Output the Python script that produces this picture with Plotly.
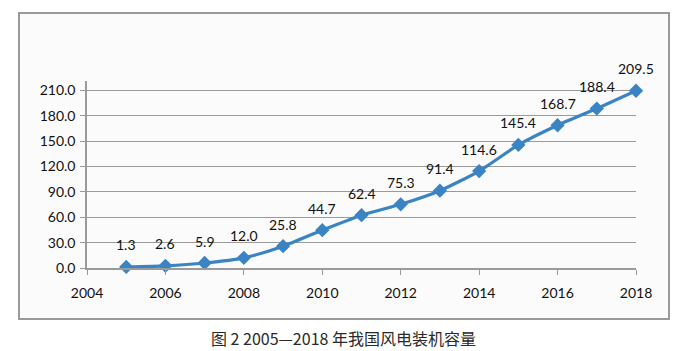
import plotly.graph_objects as go

years = [2005, 2006, 2007, 2008, 2009, 2010, 2011, 2012, 2013, 2014, 2015, 2016, 2017, 2018]
capacity = [1.3, 2.6, 5.9, 12.0, 25.8, 44.7, 62.4, 75.3, 91.4, 114.6, 145.4, 168.7, 188.4, 209.5]
labels = [f"{v:.1f}" for v in capacity]
y_ticks = [0, 30, 60, 90, 120, 150, 180, 210]
x_ticks = [2004, 2006, 2008, 2010, 2012, 2014, 2016, 2018]
caption = "图 2 2005—2018 年我国风电装机容量"

W, H = 688, 351
L, R, T, B = 87, 52, 81, 83
FONT = "Lato, Open Sans, Liberation Sans, sans-serif"

fig = go.Figure()
fig.add_trace(go.Scatter(
    x=years, y=capacity, mode="lines+markers",
    line=dict(color="#3a84c4", width=3.2, shape="spline", smoothing=0.6),
    marker=dict(symbol="diamond", size=11, color="#3a84c4"),
    cliponaxis=False, showlegend=False,
))

annotations = [dict(x=x, y=y, text=t, xref="x", yref="y", showarrow=False,
                    yshift=22, xanchor="center", yanchor="middle",
                    font=dict(family=FONT, size=14, color="#111111"))
               for x, y, t in zip(years, capacity, labels)]

annotations.append(dict(text=caption, xref="paper", yref="paper",
                        x=(343 - L) / (W - L - R), y=(H - B - 338) / (H - T - B),
                        showarrow=False, xanchor="center", yanchor="middle",
                        font=dict(family="Noto Sans CJK SC", size=16, color="#2a2a2a")))

# outer box
fig.add_shape(type="rect", xref="paper", yref="paper",
              x0=(19 - L) / (W - L - R), x1=(669 - L) / (W - L - R),
              y0=(H - B - 319) / (H - T - B), y1=(H - B - 13) / (H - T - B),
              line=dict(color="#9a9a9a", width=2), fillcolor="#fbfbfb", layer="below")

fig.update_layout(
    width=W, height=H,
    margin=dict(l=L, r=R, t=T, b=B),
    paper_bgcolor="white", plot_bgcolor="rgba(0,0,0,0)",
    font=dict(family=FONT, size=14, color="#111111"),
    xaxis=dict(range=[2004, 2018], tickvals=x_ticks, ticktext=[str(t) for t in x_ticks],
               showgrid=False, showline=True, linecolor="#9a9a9a", linewidth=2,
               ticks="outside", ticklen=5, tickcolor="#9a9a9a", tickwidth=1,
               zeroline=False, tickfont=dict(size=14), ticklabelstandoff=6),
    yaxis=dict(range=[0, 221], tickvals=y_ticks, ticktext=[f"{t:.1f}" for t in y_ticks],
               showgrid=True, gridcolor="#9a9a9a", gridwidth=1.3,
               showline=True, linecolor="#9a9a9a", linewidth=1.5,
               ticks="outside", ticklen=5, tickcolor="#9a9a9a",
               zeroline=False, tickfont=dict(size=14), ticklabelstandoff=2),
    annotations=annotations,
)

fig.write_html("out.html")
